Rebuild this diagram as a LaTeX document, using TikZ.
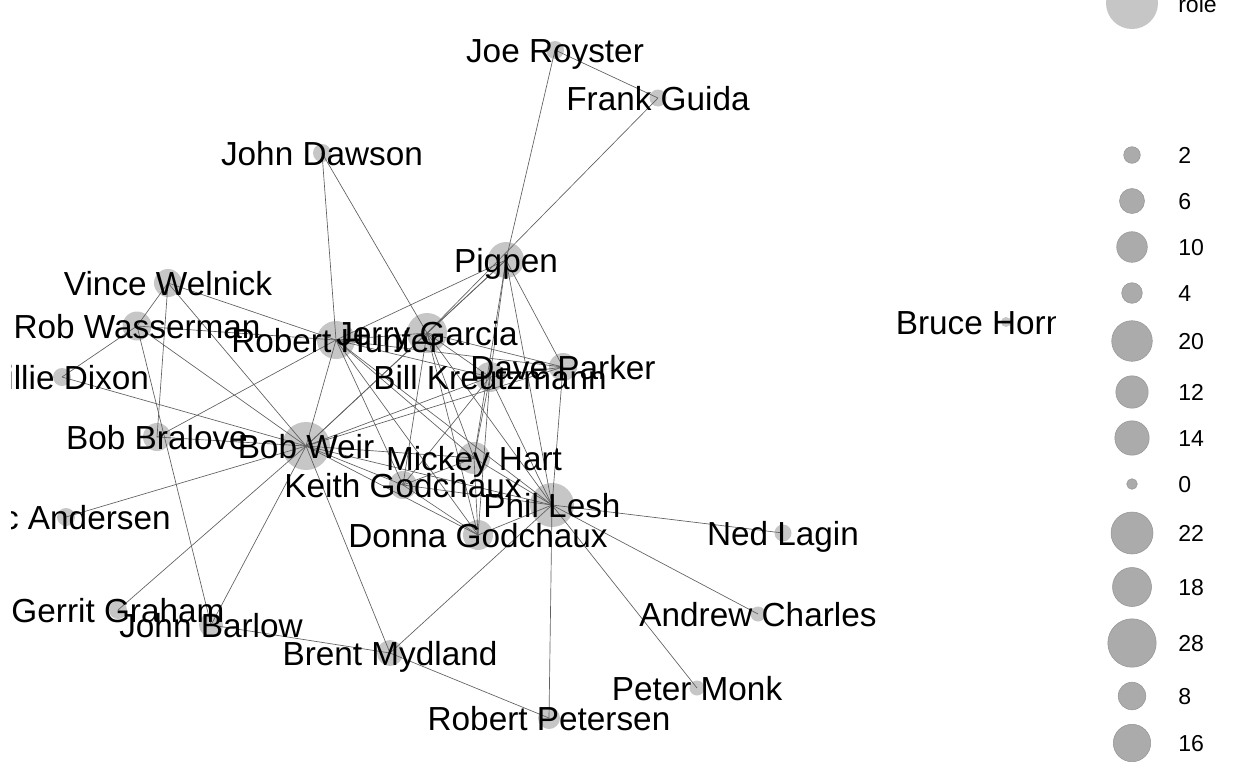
\documentclass[tikz,border=0pt]{standalone}
\usepackage{fontspec}
\setmainfont{Liberation Sans}
\definecolor{nodegray}{HTML}{C6C6C6}
\definecolor{edgegray}{HTML}{606060}
\definecolor{leggray}{HTML}{ABABAB}
\definecolor{legline}{HTML}{959595}
\tikzset{
  vtx/.style={circle, fill=nodegray, draw=none, inner sep=0pt, minimum size=#1*1.5pt},
  edge/.style={draw=edgegray, line width=0.5pt},
  lbl/.style={anchor=base, yshift=-9pt, inner sep=0pt, font=\fontsize{25pt}{30pt}\selectfont},
  legc/.style={circle, fill=leggray, draw=legline, line width=0.4pt, inner sep=0pt, minimum size=#1*1.5pt},
  legt/.style={anchor=base west, yshift=-6.2pt, inner sep=0pt, font=\fontsize{17.3pt}{21pt}\selectfont}
}
\begin{document}
\begin{tikzpicture}[x=0.75pt,y=-0.75pt]
\useasboundingbox (0,0) rectangle (1248,768);
\clip (0,0) rectangle (1248,768);
\begin{scope}
\clip (11,0) rectangle (1055,768);
% nodes
\node[vtx=9] (joe) at (555,50) {};
\node[vtx=8.5] (frank) at (658,98) {};
\node[vtx=9] (dawson) at (322,153) {};
\node[vtx=18] (pigpen) at (506,260) {};
\node[vtx=14] (vince) at (168,283) {};
\node[vtx=14.5] (wasser) at (137,326) {};
\node[vtx=19] (hunter) at (336,340) {};
\node[vtx=20] (garcia) at (427,333) {};
\node[vtx=9] (dixon) at (62,377) {};
\node[vtx=14] (parker) at (563,367) {};
\node[vtx=15] (kreutz) at (490,377) {};
\node[vtx=14] (bralove) at (157,437) {};
\node[vtx=24] (weir) at (306,446) {};
\node[vtx=16] (hart) at (474,458) {};
\node[vtx=14] (keith) at (403,485) {};
\node[vtx=22] (lesh) at (552,505) {};
\node[vtx=9] (andersen) at (66,517) {};
\node[vtx=15] (donna) at (478,535) {};
\node[vtx=8.5] (lagin) at (783,533) {};
\node[vtx=9] (gerrit) at (118,610) {};
\node[vtx=12] (barlow) at (211,625) {};
\node[vtx=7.5] (charles) at (758,614) {};
\node[vtx=13] (mydland) at (390,653) {};
\node[vtx=7.5] (monk) at (697,688) {};
\node[vtx=11] (petersen) at (549,718) {};
\node[vtx=5] (hornsby) at (1006,322) {};
% edges
\foreach \a/\b in {joe/frank, joe/pigpen, frank/garcia, dawson/hunter, dawson/garcia,
  pigpen/hunter, pigpen/garcia, pigpen/weir, pigpen/kreutz, pigpen/parker, pigpen/lesh, pigpen/hart,
  vince/wasser, vince/hunter, vince/weir, vince/bralove,
  wasser/dixon, wasser/hunter, wasser/weir, wasser/barlow,
  dixon/weir, bralove/hunter, bralove/weir, andersen/weir, gerrit/weir,
  barlow/weir, barlow/mydland, mydland/weir, mydland/lesh, mydland/petersen,
  petersen/lesh, lagin/lesh, charles/lesh, monk/lesh,
  hunter/garcia, hunter/weir, hunter/kreutz, hunter/hart, hunter/lesh, hunter/keith, hunter/parker, hunter/donna,
  garcia/weir, garcia/kreutz, garcia/hart, garcia/lesh, garcia/donna, garcia/keith, garcia/parker,
  weir/kreutz, weir/parker, weir/hart, weir/keith, weir/lesh, weir/donna,
  kreutz/parker, kreutz/hart, kreutz/lesh, kreutz/keith, kreutz/donna,
  parker/lesh, hart/lesh, hart/keith, hart/donna, keith/lesh, keith/donna, donna/lesh}
  \draw[edge] (\a.center) -- (\b.center);
% labels
\node[lbl] (joe-l) at (joe) {Joe Royster};
\node[lbl] (frank-l) at (frank) {Frank Guida};
\node[lbl] (dawson-l) at (dawson) {John Dawson};
\node[lbl] (pigpen-l) at (pigpen) {Pigpen};
\node[lbl] (vince-l) at (vince) {Vince Welnick};
\node[lbl] (wasser-l) at (wasser) {Rob Wasserman};
\node[lbl] (hunter-l) at (hunter) {Robert Hunter};
\node[lbl] (garcia-l) at (garcia) {Jerry Garcia};
\node[lbl] (dixon-l) at (dixon) {Willie Dixon};
\node[lbl] (parker-l) at (parker) {Dave Parker};
\node[lbl] (kreutz-l) at (kreutz) {Bill Kreutzmann};
\node[lbl] (bralove-l) at (bralove) {Bob Bralove};
\node[lbl] (weir-l) at (weir) {Bob Weir};
\node[lbl] (hart-l) at (hart) {Mickey Hart};
\node[lbl] (keith-l) at (keith) {Keith Godchaux};
\node[lbl] (lesh-l) at (lesh) {Phil Lesh};
\node[lbl] (andersen-l) at (andersen) {Eric Andersen};
\node[lbl] (donna-l) at (donna) {Donna Godchaux};
\node[lbl] (lagin-l) at (lagin) {Ned Lagin};
\node[lbl] (gerrit-l) at (gerrit) {Gerrit Graham};
\node[lbl] (barlow-l) at (barlow) {John Barlow};
\node[lbl] (charles-l) at (charles) {Andrew Charles};
\node[lbl] (mydland-l) at (mydland) {Brent Mydland};
\node[lbl] (monk-l) at (monk) {Peter Monk};
\node[lbl] (petersen-l) at (petersen) {Robert Petersen};
\node[lbl] (hornsby-l) at (hornsby) {Bruce Hornsby};
\end{scope}
% legend
\node[vtx=26] (role) at (1132,3) {};
\node[anchor=base west, inner sep=0pt, font=\fontsize{17.3pt}{21pt}\selectfont] (role-t) at (1178,12) {role};
\foreach \v/\r/\y in {2/8.3/155, 6/12.5/201, 10/15.3/247, 4/10.3/293, 20/20.3/341, 12/16.2/392,
  14/17.2/438, 0/5.3/484, 22/21/533, 18/19.5/587, 28/24.2/643, 8/13.8/696, 16/18.7/743}{
  \node[legc=\r] (lc\v) at (1132,\y) {};
  \node[legt] (lt\v) at (1178,\y) {\v};
}
\end{tikzpicture}
\end{document}
